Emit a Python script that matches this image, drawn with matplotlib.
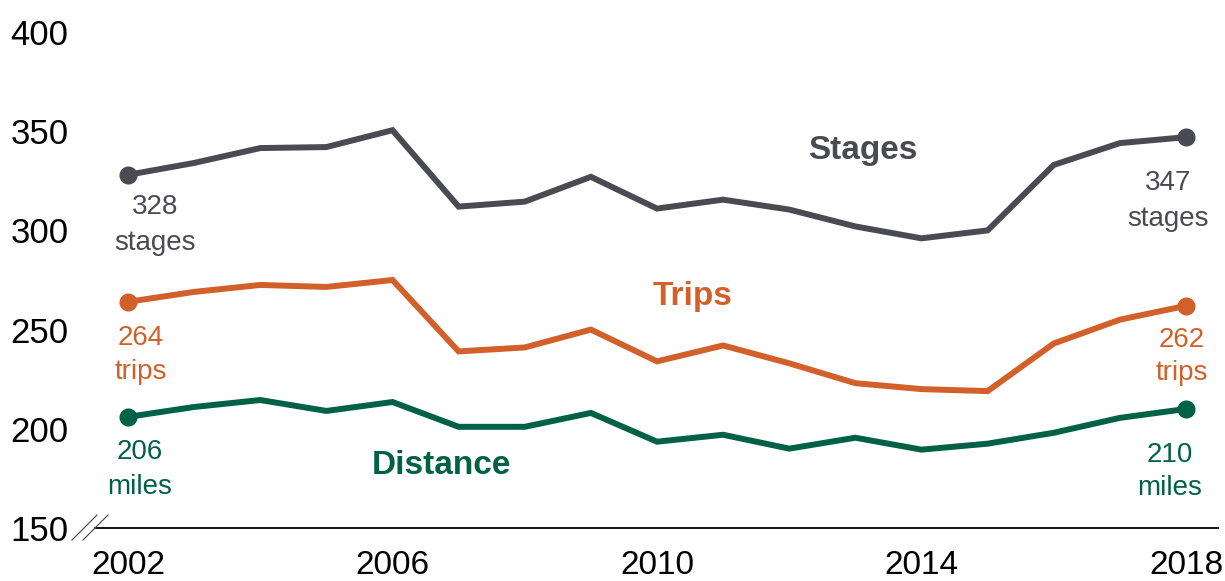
import matplotlib
matplotlib.use("Agg")
import matplotlib.pyplot as plt
from matplotlib.lines import Line2D

plt.rcParams['font.family'] = ['Liberation Sans', 'DejaVu Sans']

years = list(range(2002, 2019))
stages = [328, 334, 341.5, 342, 350.5, 312, 314.5, 327, 311, 315.5, 310.5, 302, 296, 300, 333, 344, 347]
trips = [264, 269, 272.5, 271.5, 275, 239, 241, 250, 234, 242, 233, 223, 220, 219, 243, 255, 262]
distance = [206, 211, 214.5, 209, 213.5, 201, 201, 208, 193.5, 197, 190, 195.5, 189.5, 192.5, 198, 205.5, 210]
yticks = [150, 200, 250, 300, 350, 400]
xticks = [2002, 2006, 2010, 2014, 2018]

c_st = '#4a4b52'
c_tr = '#d2602a'
c_di = '#006146'

W, H = 1225, 581
fig = plt.figure(figsize=(W / 100, H / 100), dpi=100)
ax = fig.add_axes([95 / W, 53 / H, (1218 - 95) / W, (528 - 32) / H])

for vals, col in [(stages, c_st), (trips, c_tr), (distance, c_di)]:
    ax.plot(years, vals, color=col, lw=4.3, solid_joinstyle='miter', zorder=3)
    ax.plot([years[0], years[-1]], [vals[0], vals[-1]], 'o', color=col, ms=12, zorder=4)

pxy = 66.1  # pixels per year
ax.set_xlim(2002 - 33 / pxy, 2018 + 32 / pxy)
ax.set_ylim(150, 400)
ax.set_yticks(yticks)
ax.set_xticks(xticks)
ax.tick_params(axis='y', length=0, labelsize=25, colors='black', pad=19)
ax.tick_params(axis='x', length=0, labelsize=24, colors='black', pad=16)
for s in ['left', 'right', 'top']:
    ax.spines[s].set_visible(False)
ax.spines['bottom'].set_linewidth(1.3)

# axis break marks
for x0 in (72, 83):
    fig.add_artist(Line2D([x0 / W, (x0 + 25) / W], [1 - 540 / H, 1 - 515 / H],
                          color='#555555', lw=0.9))

def ftext(px, py, s, col, size=20, weight='normal'):
    fig.text(px / W, 1 - py / H, s, color=col, fontsize=size, fontweight=weight,
             ha='center', va='center')

# end labels
ftext(155, 207, f"{stages[0]:.0f}", c_st)
ftext(155, 243, "stages", c_st)
ftext(141, 338, f"{trips[0]:.0f}", c_tr)
ftext(141, 372, "trips", c_tr)
ftext(140, 452, f"{distance[0]:.0f}", c_di)
ftext(140, 487, "miles", c_di)
ftext(1168, 183, f"{stages[-1]:.0f}", c_st)
ftext(1168, 219, "stages", c_st)
ftext(1182, 340, f"{trips[-1]:.0f}", c_tr)
ftext(1182, 373, "trips", c_tr)
ftext(1170, 455, f"{distance[-1]:.0f}", c_di)
ftext(1170, 488, "miles", c_di)

# series names
ftext(863, 150, "Stages", c_st, size=24, weight='bold')
ftext(693, 297, "Trips", c_tr, size=24, weight='bold')
ftext(441, 466, "Distance", c_di, size=24, weight='bold')

fig.savefig("out.png", dpi=100)
